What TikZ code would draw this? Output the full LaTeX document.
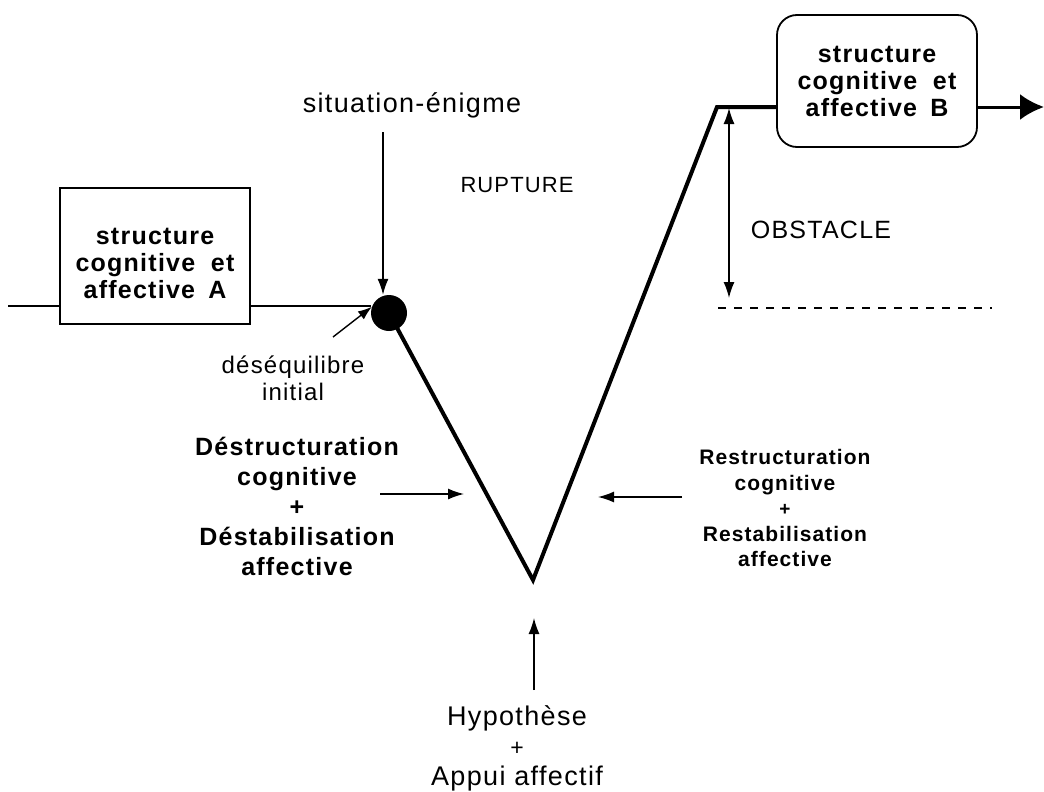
\documentclass[tikz,border=0pt]{standalone}
\usepackage{fontspec}
\setmainfont{Liberation Sans}[LetterSpace=5]
\usetikzlibrary{arrows.meta, positioning}
\tikzset{
	structbox/.style = {draw, line width=1.8pt, minimum width=190pt, minimum height=136pt},
	boxtext/.style = {align=center, inner sep=0pt, font=\fontsize{25}{27}\selectfont\bfseries},
	thinarrow/.style = {line width=1.4pt, -{Latex[length=16pt,width=11pt]}},
	vline/.style = {line width=4pt, line join=miter},
	label/.style = {align=center, inner sep=0pt}
}

\begin{document}
\begin{tikzpicture}[x=1pt, y=-1pt]
	\useasboundingbox (0,0) rectangle (1044,792);
	% ====== Structures ========
	\node[structbox] (boxA) at (155,256) {};
	\node[boxtext] (textA) at (155,263) {structure\\cognitive\hspace{0.3em} et\\affective\hspace{0.2em} A};
	\node[structbox, rounded corners=20pt, minimum width=200pt, minimum height=132pt] (boxB) at (877,81) {};
	\node[boxtext] (textB) at (877,81) {structure\\cognitive\hspace{0.3em} et\\affective\hspace{0.2em} B};
	\node[circle, fill, minimum size=36pt, inner sep=0pt] (dot) at (389,313) {};
	% ====== V path ========
	\coordinate (in) at (8,306);
	\coordinate (vbot) at (533,580);
	\coordinate (vtop) at (717,107);
	\coordinate (out) at (1044,107);
	\draw[line width=2.2pt] (in) -- (boxA.west |- in);
	\draw[line width=2.2pt] (boxA.east |- in) -- (dot.west |- in);
	\draw[vline] (dot.center) -- (vbot) -- (vtop) -- (boxB.west |- vtop);
	\draw[line width=3pt, -{Latex[length=24pt,width=26pt]}] (boxB.east |- out) -- (out);
	% ====== Labels ========
	\node[label, font=\fontsize{27}{30}\selectfont] (enigme) at (412,105) {situation-énigme};
	\node[label, font=\fontsize{22}{24}\selectfont] (rupture) at (517,185) {RUPTURE};
	\draw[thinarrow] (383,132) -- (dot.north -| 383,0);
	\node[label, font=\fontsize{24}{27}\selectfont] (deseq) at (293,378) {déséquilibre\\initial};
	\draw[line width=1.4pt, -{Latex[length=14pt,width=10pt]}] (333,337) -- (dot.160);
	\node[label, font=\fontsize{25}{30}\selectfont\bfseries] (destr) at (297,506)
		{Déstructuration\\cognitive\\+\\Déstabilisation\\affective};
	\coordinate (lArr) at (380,494);
	\draw[thinarrow] (lArr) -- ++(84,0);
	\node[label, font=\fontsize{21}{25.5}\selectfont\bfseries] (restr) at (785,508)
		{Restructuration\\cognitive\\{\fontsize{19}{19}\selectfont +}\\Restabilisation\\affective};
	\coordinate (rArr) at (682,497);
	\draw[thinarrow] (rArr) -- ++(-84,0);
	\coordinate (hArr) at (534,690);
	\draw[thinarrow] (hArr) -- ++(0,-72);
	\node[label, font=\fontsize{27}{30}\selectfont] (hypo) at (517,748)
		{Hypothèse\\{\fontsize{23}{23}\selectfont +}\\Appui affectif};
	% ====== Obstacle ========
	\coordinate (obsTop) at (729,108);
	\coordinate (obsBot) at (729,298);
	\draw[line width=1.4pt, {Latex[length=16pt,width=11pt]}-{Latex[length=16pt,width=11pt]}] (obsTop) -- (obsBot);
	\node[label, font=\fontsize{25}{28}\selectfont] (obstacle) at (821,230) {OBSTACLE};
	\coordinate (dashL) at (718,308);
	\coordinate (dashR) at (992,308);
	\draw[line width=1.2pt, dash pattern=on 8pt off 8pt] (dashL) -- (dashR);
\end{tikzpicture}
\end{document}
